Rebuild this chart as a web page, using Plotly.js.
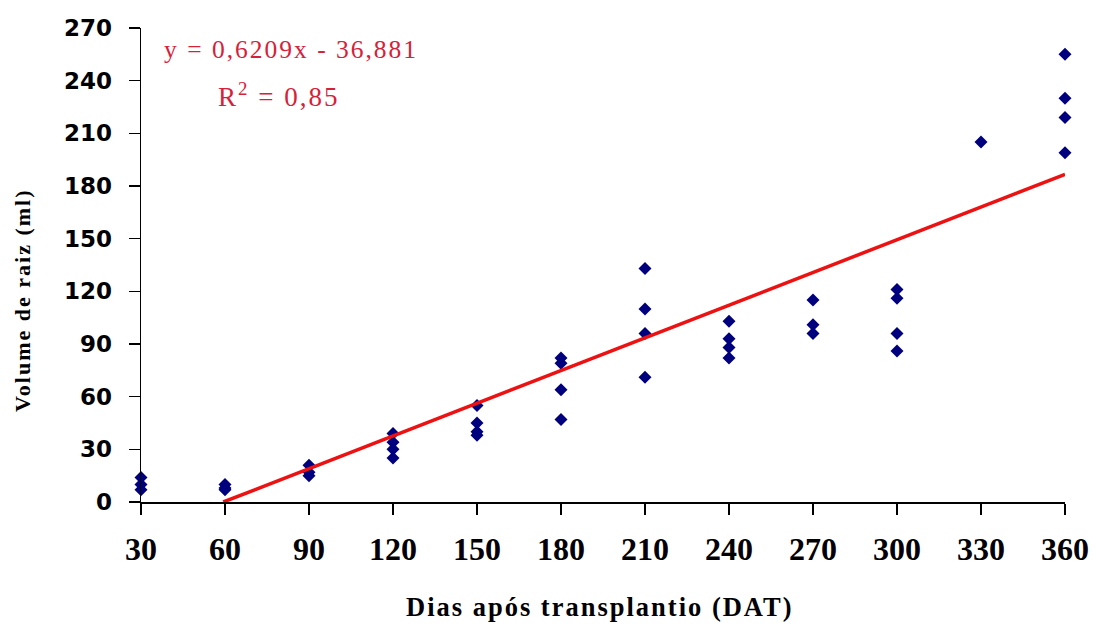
<!DOCTYPE html>
<html>
<head>
<meta charset="utf-8">
<script src="https://cdn.plot.ly/plotly-3.0.1.min.js"></script>
<style>
  body { margin: 0; background: #fff; }
  #chart { width: 1096px; height: 629px; }
  .annotation-text { letter-spacing: 2px; }
</style>
</head>
<body>
<div id="chart"></div>
<script>
// Days after transplant (DAT) and root volume (ml)
const days = [
  30, 30, 30,
  60, 60, 60,
  90, 90, 90,
  120, 120, 120, 120,
  150, 150, 150, 150,
  180, 180, 180, 180,
  210, 210, 210, 210,
  240, 240, 240, 240,
  270, 270, 270,
  300, 300, 300, 300,
  330,
  360, 360, 360, 360
];
const rootVolume = [
  14, 10, 7,
  10, 8, 7,
  21, 17, 15,
  39, 34, 30, 25,
  55, 45, 40, 38,
  82, 79, 64, 47,
  133, 110, 96, 71,
  103, 93, 88, 82,
  115, 101, 96,
  121, 116, 96, 86,
  205,
  255, 230, 219, 199
];

// Trend line as given on the chart: y = 0,6209x - 36,881
const slope = 0.6209;
const intercept = -36.881;
const trendX = [-intercept / slope, 360];
const trendY = trendX.map(x => slope * x + intercept);

const xTicks = [30, 60, 90, 120, 150, 180, 210, 240, 270, 300, 330, 360];
const yTicks = [0, 30, 60, 90, 120, 150, 180, 210, 240, 270];

const equationText = "y = 0,6209x - 36,881";
const r2Text = "R<sup>2</sup> = 0,85";
const xTitle = "Dias após transplantio (DAT)";
const yTitle = "Volume de raiz (ml)";

const traces = [
  {
    x: days, y: rootVolume,
    type: "scatter", mode: "markers",
    marker: { symbol: "diamond", size: 10, color: "#00007f" },
    cliponaxis: false,
    showlegend: false
  },
  {
    x: trendX, y: trendY,
    type: "scatter", mode: "lines",
    line: { color: "#ee1111", width: 3.5 },
    showlegend: false
  }
];

const PW = 924, PH = 474; // plot area size in px, used to place annotations
const layout = {
  width: 1096, height: 629,
  margin: { l: 141, r: 31, t: 28, b: 127 },
  paper_bgcolor: "#fff", plot_bgcolor: "#fff",
  xaxis: {
    range: [30, 360],
    tickvals: xTicks,
    ticktext: xTicks.map(String),
    ticks: "outside", ticklen: 11, tickwidth: 1.5, tickcolor: "#000",
    showline: true, linecolor: "#000", linewidth: 1.5,
    showgrid: false, zeroline: false,
    ticklabelstandoff: 7,
    tickfont: { family: "Liberation Serif", size: 32, color: "#000", weight: "bold" },
    automargin: false
  },
  yaxis: {
    range: [0, 270],
    tickvals: yTicks,
    ticktext: yTicks.map(String),
    ticks: "outside", ticklen: 11, tickwidth: 1.5, tickcolor: "#000",
    showline: true, linecolor: "#000", linewidth: 1.5,
    showgrid: false, zeroline: false,
    ticklabelstandoff: 12,
    tickfont: { family: "DejaVu Sans", size: 23, color: "#000", weight: "bold" },
    automargin: false
  },
  shapes: [
    // short stub of the x-axis line left of the y-axis, as in the reference
    { type: "line", xref: "paper", yref: "paper", x0: -11 / PW, x1: 0, y0: 0, y1: 0,
      line: { color: "#000", width: 1.5 } }
  ],
  annotations: [
    {
      text: xTitle, xref: "paper", yref: "paper",
      x: (600 - 141) / PW, y: (502 - 607) / PH, xanchor: "center", yanchor: "middle",
      showarrow: false,
      font: { family: "Liberation Serif", size: 26.5, color: "#000", weight: "bold" }
    },
    {
      text: yTitle, xref: "paper", yref: "paper",
      x: -119 / PW, y: (502 - 300) / PH, xanchor: "center", yanchor: "middle",
      textangle: -90, showarrow: false,
      font: { family: "Liberation Serif", size: 22, color: "#000", weight: "bold" }
    },
    {
      text: equationText, xref: "paper", yref: "paper",
      x: 21 / PW, y: (502 - 49) / PH, xanchor: "left", yanchor: "middle",
      showarrow: false,
      font: { family: "Liberation Serif", size: 25.5, color: "#d6213a" }
    },
    {
      text: r2Text, xref: "paper", yref: "paper",
      x: (278 - 141) / PW, y: (502 - 95) / PH, xanchor: "center", yanchor: "middle",
      showarrow: false,
      font: { family: "Liberation Serif", size: 27, color: "#d6213a" }
    }
  ]
};

Plotly.newPlot("chart", traces, layout, { displayModeBar: false, staticPlot: true });
</script>
</body>
</html>
